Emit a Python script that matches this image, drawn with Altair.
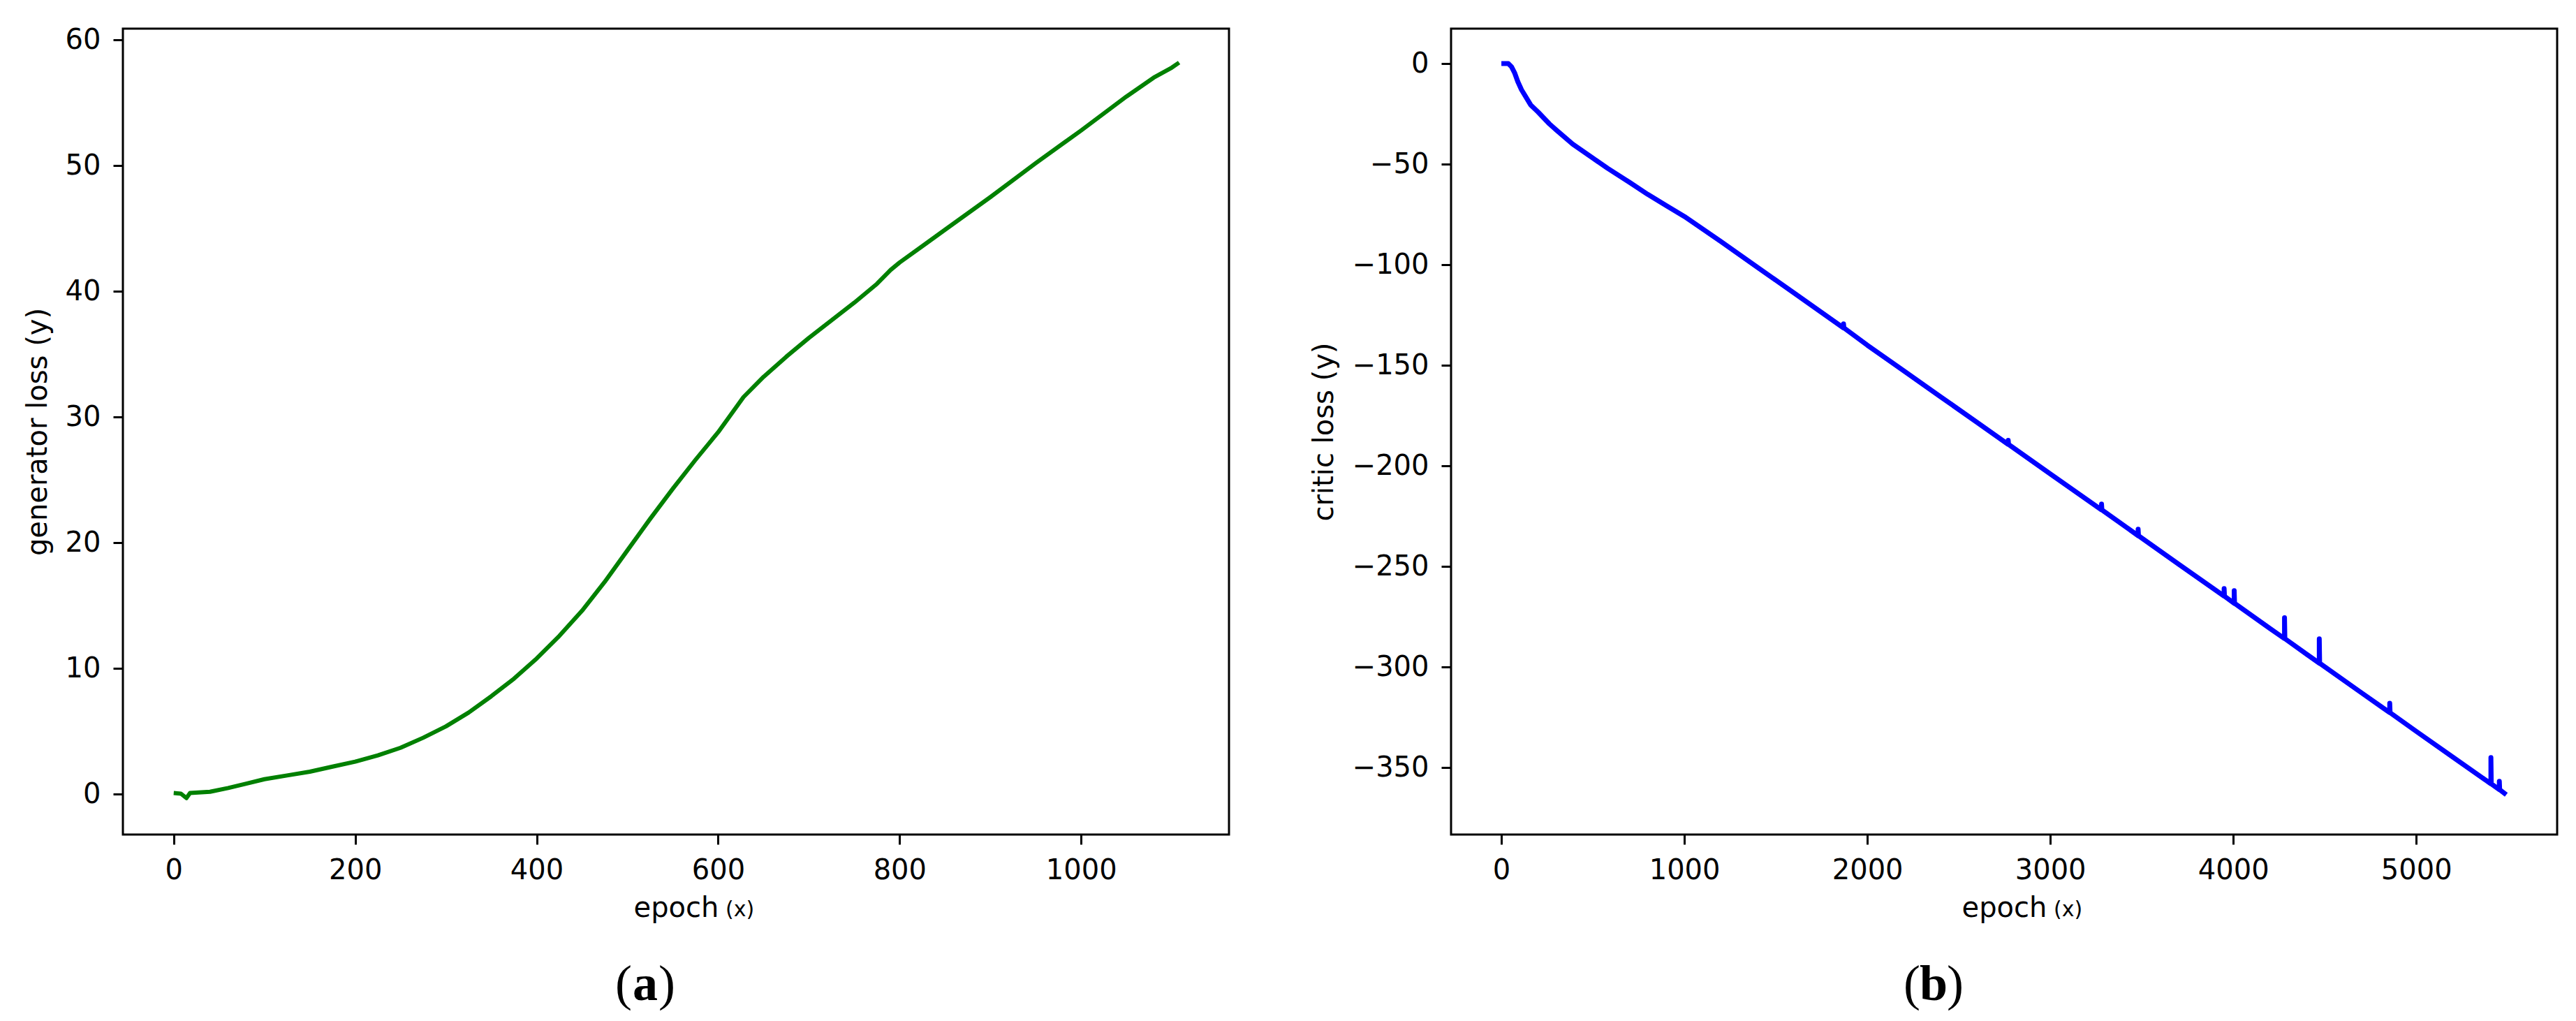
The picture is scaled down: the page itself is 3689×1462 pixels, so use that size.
import altair as alt
import pandas as pd

# ---------------- data ----------------
gen_epoch = [0, 8, 14, 18, 40, 60, 80, 100, 125, 150, 175, 200, 225, 250, 275,
             300, 325, 350, 375, 400, 425, 450, 475, 500, 525, 550, 575, 600,
             628, 650, 675, 700, 725, 750, 775, 790, 800, 825, 850, 900,
             950, 1000, 1050, 1080, 1100, 1108]
gen_loss = [0.1, 0.05, -0.3, 0.1, 0.2, 0.5, 0.85, 1.2, 1.5, 1.8, 2.2, 2.6, 3.1,
            3.7, 4.5, 5.4, 6.5, 7.8, 9.2, 10.8, 12.6, 14.6, 16.9, 19.4, 21.9,
            24.3, 26.6, 28.8, 31.6, 33.2, 34.8, 36.3, 37.7, 39.1, 40.6,
            41.7, 42.3, 43.6, 44.9, 47.5, 50.2, 52.8, 55.5, 57.0, 57.8, 58.2]

critic_epoch = [0, 38, 55, 72, 90, 110, 160, 200, 263, 300, 390, 500, 580, 700,
                800, 900, 1000, 1200, 1400, 1600, 1870, 1870, 1872, 2000, 2200,
                2400, 2600, 2770, 2770, 2772, 3000, 3280, 3280, 3282, 3480, 3480,
                3482, 3700, 3950, 3950, 3952, 4005, 4005, 4007, 4200, 4280, 4280,
                4282, 4400, 4470, 4470, 4472, 4691, 4855, 4855, 4857, 5000, 5200,
                5408, 5408, 5410, 5454, 5454, 5456, 5492]
critic_loss = [0, 0, -1.5, -4.5, -9, -13, -20.5, -24, -30, -33, -40, -47, -52,
               -59, -65, -70.5, -76, -88.5, -101.3, -114.1, -131.4, -129.4,
               -131.4, -140, -152.8, -165.6, -178.4, -189.3, -187.3, -189.3,
               -204, -221.9, -219, -221.9, -234.7, -231.5, -234.7, -248.8,
               -264.8, -261, -264.8, -268.3, -262, -268.3, -280.8, -285.9,
               -275.5, -285.9, -293.6, -298.1, -286, -298.1, -312.2, -322.7,
               -318, -322.7, -332, -344.8, -358.1, -345, -358.1, -361,
               -356.8, -361, -363.5]

x_ticks_a = [0, 200, 400, 600, 800, 1000]
y_ticks_a = [0, 10, 20, 30, 40, 50, 60]
x_ticks_b = [0, 1000, 2000, 3000, 4000, 5000]
y_ticks_b = [0, -50, -100, -150, -200, -250, -300, -350]

FONT = "DejaVu Sans"
SERIF = "Liberation Serif"
W, H = 1584, 1154


def text_mark(txt, x, y, size, font, align, weight="normal"):
    return alt.Chart(pd.DataFrame({"t": [txt]})).mark_text(
        font=font, fontSize=size, align=align, baseline="alphabetic",
        fontWeight=weight, color="black"
    ).encode(x=alt.value(x), y=alt.value(y), text="t:N")


def panel(epochs, losses, color, xdom, ydom, xt, yt, ytitle, ytitle_x,
          letter, letter_x, sw, anchor=False):
    df = pd.DataFrame({"i": list(range(len(epochs))), "epoch": epochs,
                       "loss": losses})
    line = alt.Chart(df).mark_line(
        color=color, strokeWidth=sw, strokeJoin="round"
    ).encode(
        x=alt.X("epoch:Q",
                scale=alt.Scale(domain=xdom, nice=False, zero=False),
                axis=alt.Axis(values=xt, format="d", title="epoch",
                              titleY=117, titleBaseline="alphabetic",
                              titleAlign="center", titleX=W / 2,
                              labelOverlap=False, labelFlush=False)),
        y=alt.Y("loss:Q",
                scale=alt.Scale(domain=ydom, nice=False, zero=False),
                axis=alt.Axis(values=yt, format="d", title=ytitle,
                              titleX=ytitle_x, titleY=H / 2, titleAngle=270,
                              titleBaseline="middle", titleAlign="center",
                              labelOverlap=False, labelFlush=False)),
        order="i:Q",
    )
    layers = [line,
              text_mark("(x)", 863, 1271, 30, FONT, "left"),
              text_mark("(", letter_x - 19, 1391, 72, SERIF, "right"),
              text_mark(letter, letter_x, 1391, 72, SERIF, "center", "bold"),
              text_mark(")", letter_x + 19, 1391, 72, SERIF, "left")]
    if anchor:
        layers.append(
            alt.Chart(pd.DataFrame({"a": [0]})).mark_rule(
                opacity=0, strokeWidth=0.01
            ).encode(x=alt.value(-166), x2=alt.value(-165),
                     y=alt.value(-31), y2=alt.value(-30)))
    return alt.layer(*layers).properties(width=W, height=H)


left = panel(gen_epoch, gen_loss, "#008000", [-56, 1163], [-3.2, 60.9],
             x_ticks_a, y_ticks_a, "generator loss (y)", -122, "a", 748, 6,
             anchor=True)
right = panel(critic_epoch, critic_loss, "#0000ff", [-275, 5770],
              [-383.3, 17.4], x_ticks_b, y_ticks_b, "critic loss (y)", -182,
              "b", 691, 7)

chart = alt.hconcat(left, right, spacing=318, bounds="flush").properties(
    padding=0
).configure_view(
    stroke="black", strokeWidth=3
).configure_axis(
    domain=False, grid=False, ticks=True, tickColor="black", tickWidth=3,
    tickSize=14, labelFont=FONT, labelFontSize=40, labelColor="black",
    titleFont=FONT, titleFontSize=40, titleColor="black",
    titleFontWeight="normal"
).configure_axisX(labelPadding=17).configure_axisY(labelPadding=18)

chart.save("out.html", embed_options={"renderer": "svg", "actions": False})
